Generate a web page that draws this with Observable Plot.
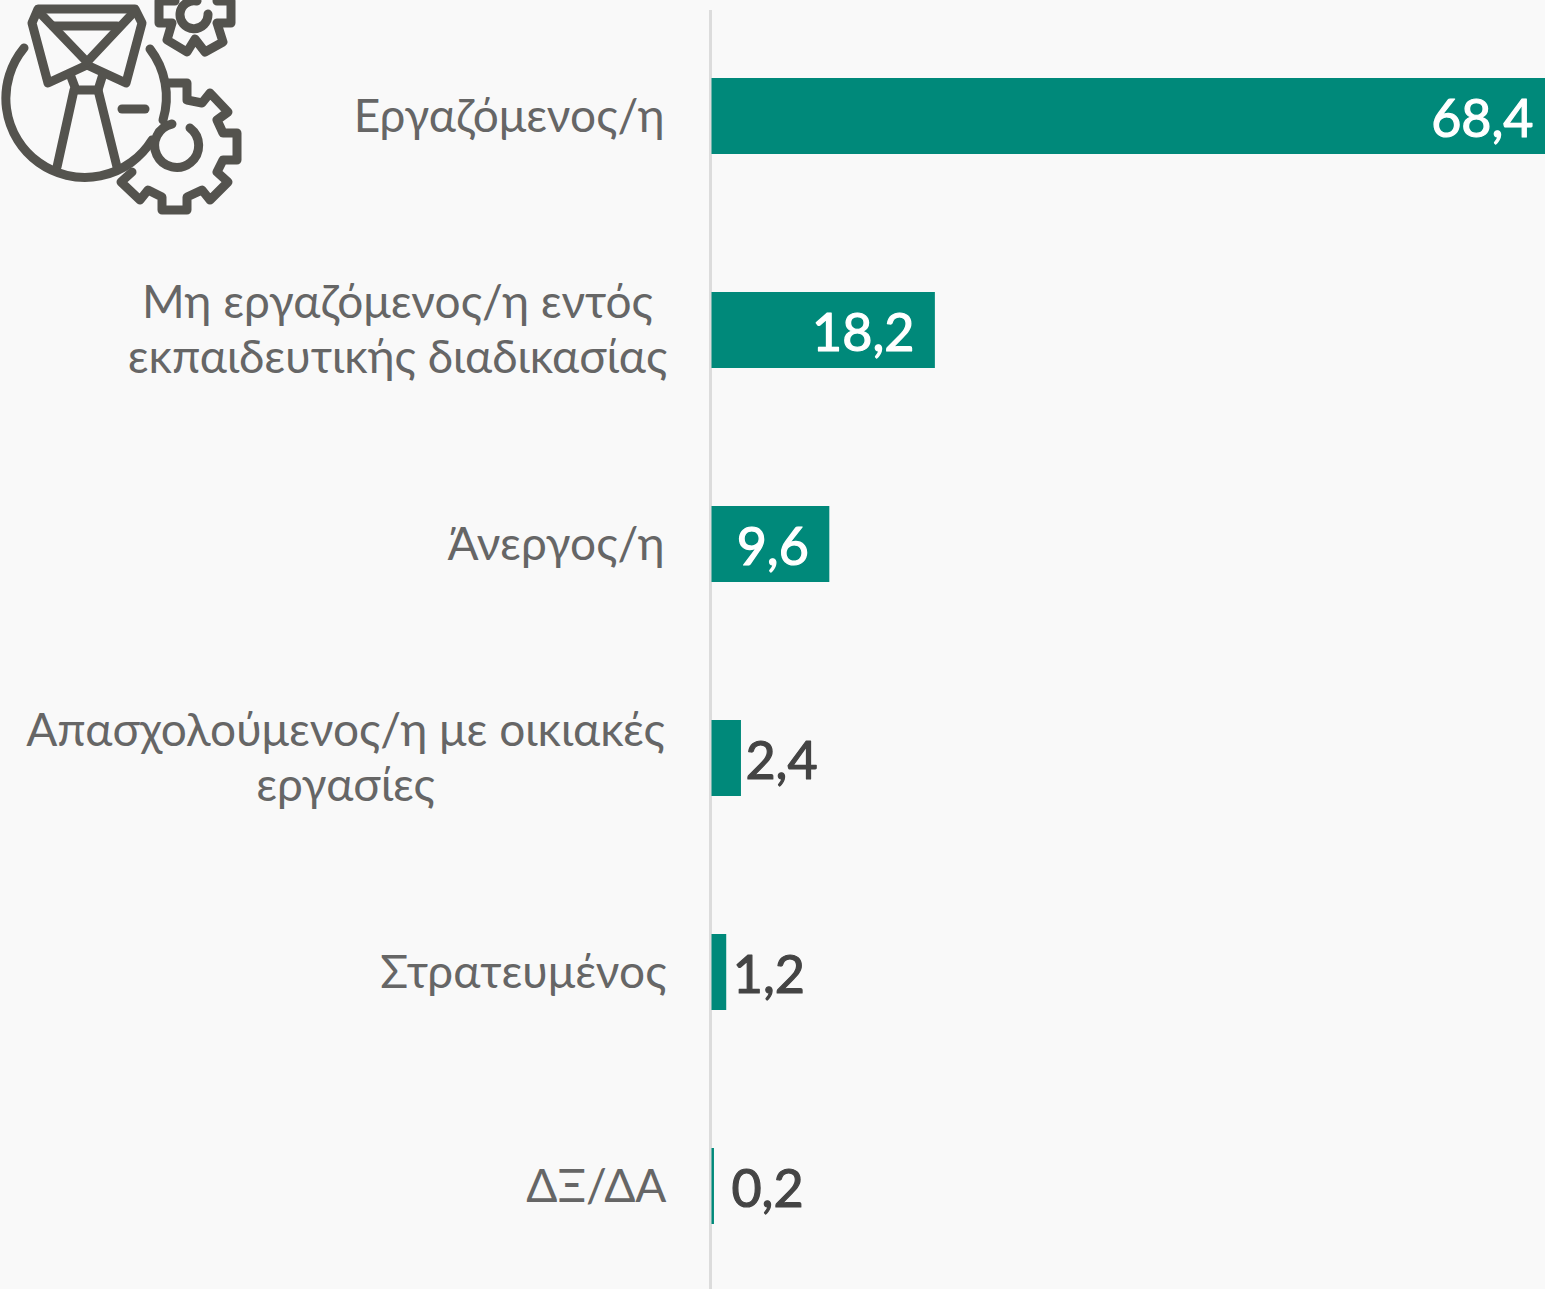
<!DOCTYPE html>
<html lang="el">
<head>
<meta charset="utf-8">
<script src="https://cdn.jsdelivr.net/npm/d3@7"></script>
<script src="https://cdn.jsdelivr.net/npm/@observablehq/plot@0.6"></script>
<style>
html,body{margin:0;padding:0;background:#f9f9f9;overflow:hidden;width:1545px;height:1289px}
#wrap{position:relative;width:1545px;height:1289px}
#wrap svg{position:absolute;left:0;top:0}
</style>
</head>
<body>
<div id="wrap"></div>
<script>
const categories = [
  "Εργαζόμενος/η",
  "Μη εργαζόμενος/η εντός\nεκπαιδευτικής διαδικασίας",
  "Άνεργος/η",
  "Απασχολούμενος/η με οικιακές\nεργασίες",
  "Στρατευμένος",
  "ΔΞ/ΔΑ"
];
const values = [68.4, 18.2, 9.6, 2.4, 1.2, 0.2];
const valueLabels = ["68,4", "18,2", "9,6", "2,4", "1,2", "0,2"];
const rows = categories.map((c, i) => ({category: c, value: values[i], label: valueLabels[i]}));

const FONT = "Lato, 'Open Sans', sans-serif";
const labelStyle = {y: "category", text: "category", fontFamily: FONT, fontSize: 46, fill: "#666", lineHeight: 1.2, lineAnchor: "middle", frameAnchor: "left", dy: -2.5};
const valueStyle = {x: "value", y: "category", text: "label", fontFamily: FONT, fontSize: 52, strokeWidth: 1.2, dy: 3.5};
const pick = (...idx) => rows.filter((d, i) => idx.includes(i));

const chart = Plot.plot({
  width: 1545, height: 1289,
  marginTop: 10, marginBottom: 0, marginLeft: 0, marginRight: 0,
  style: {background: "transparent", overflow: "hidden"},
  x: {domain: [0, 68.4], range: [711.5, 1551], axis: null},
  y: {domain: categories, range: [8.5, 1293.5], paddingInner: 0.645, paddingOuter: 0.3225, axis: null},
  marks: [
    Plot.ruleX([0], {stroke: "#dcdcdc", strokeWidth: 3, dx: -1.5}),
    Plot.barX(rows, {x: "value", y: "category", fill: "#00897a"}),
    // category labels: single-line ones right-aligned, wrapped ones centred on themselves
    Plot.text(pick(0, 2), {...labelStyle, textAnchor: "end", dx: 664}),
    Plot.text(pick(4, 5), {...labelStyle, textAnchor: "end", dx: 666}),
    Plot.text(pick(1), {...labelStyle, textAnchor: "middle", dx: 397}),
    Plot.text(pick(3), {...labelStyle, textAnchor: "middle", dx: 345}),
    // value labels
    Plot.text(pick(0), {...valueStyle, fill: "#fff", stroke: "#fff", textAnchor: "end", dx: -18}),
    Plot.text(pick(1, 2), {...valueStyle, fill: "#fff", stroke: "#fff", textAnchor: "end", dx: -21}),
    Plot.text(pick(3), {...valueStyle, fill: "#444", stroke: "#444", textAnchor: "start", dx: 4}),
    Plot.text(pick(4), {...valueStyle, fill: "#444", stroke: "#444", textAnchor: "start", dx: 6}),
    Plot.text(pick(5), {...valueStyle, fill: "#444", stroke: "#444", textAnchor: "start", dx: 17})
  ]
});
const wrap = document.getElementById("wrap");
wrap.appendChild(chart);

// decorative pictogram (tie in a globe, with two cog wheels)
const icon = document.createElementNS("http://www.w3.org/2000/svg", "svg");
icon.setAttribute("width", 260); icon.setAttribute("height", 225);
icon.setAttribute("viewBox", "0 0 260 225");
icon.innerHTML = `<g fill="none" stroke="#54534e" stroke-width="9" stroke-linecap="round" stroke-linejoin="round">
<path d="M38 9H135L142 23L126 83L87 65L48 83L32 23Z"/>
<path d="M53 26H117"/>
<path d="M39 12L87 62L134 12"/>
<path d="M70 74L76 90H98L103 74"/>
<path d="M74 90L57 167M98 90L117 167"/>
<path d="M24 48A79 79 0 1 0 152 140"/>
<path d="M150 49A79 79 0 0 1 163 120"/>
<path d="M122 109H145"/>
<path d="M168 83H187V100L202 103L210 93L228 112L217 120L223 133H237V160H223L217 172L228 182L210 200L202 190L187 197V210H162V197L148 190L140 200L121 182L132 172"/>
<path d="M172 124A22 22 0 1 0 190 128"/>
<path d="M175 1H159V23H172L167 40L187 52L195 39L205 52L223 42L217 23H231V1H217"/>
<path d="M197 1A14 14 0 1 0 208 14"/>
</g>`;
wrap.appendChild(icon);
</script>
</body>
</html>
